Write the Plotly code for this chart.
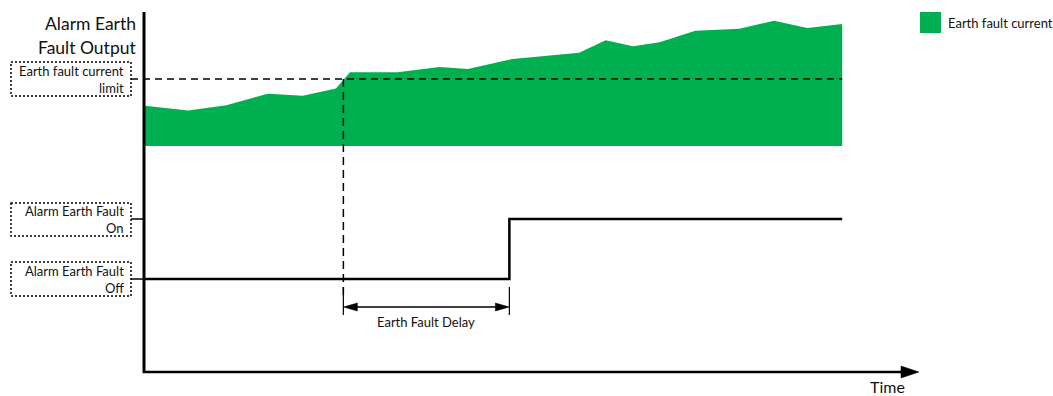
import plotly.graph_objects as go

# ---------------- data ----------------
time_s = [0, 5.2, 9.8, 14.8, 19.0, 23.0, 24.7, 30.4, 35.5, 38.9, 44.3,
          52.3, 55.5, 58.8, 62.0, 66.3, 71.6, 75.8, 79.8, 84.0]
current_a = [6.0, 5.3, 6.1, 7.8, 7.5, 8.6, 11.0, 11.0, 11.8, 11.5, 13.0,
             13.9, 15.8, 14.9, 15.5, 17.2, 17.5, 18.7, 17.6, 18.2]
current_limit_a = 10
alarm_time_s = [0, 43.9, 84.0]
alarm_state = [0, 1, 1]
trip_time_s = 23.9
fault_delay_s = 20

series_name = "Earth fault current"
title_lines = ["Alarm Earth", "Fault Output"]
limit_label = ["Earth fault current", "limit"]
on_label = ["Alarm Earth Fault", "On"]
off_label = ["Alarm Earth Fault", "Off"]
delay_label = "Earth Fault Delay"
time_label = "Time"

# ---------------- layout geometry ----------------
W, H = 1053, 396
X0_PX, PX_PER_S = 145, 8.3
BASE_PX, PX_PER_A = 146, 6.7
OFF_PX, PX_PER_STATE = 279, 60
GREEN = "#00B050"
FONT = "Lato"
TXT = "#111111"


def tx(t):
    return X0_PX + t * PX_PER_S


def cy(c):
    return BASE_PX - c * PX_PER_A


def sy(s):
    return OFF_PX - s * PX_PER_STATE


def px(x):
    return x / W


def py(y):
    return 1 - y / H


fig = go.Figure()
fig.add_trace(go.Scatter(x=time_s, y=current_a, mode="none", fill="tozeroy",
                         fillcolor=GREEN, name=series_name, hoverinfo="skip"))
fig.add_trace(go.Scatter(x=alarm_time_s, y=alarm_state, yaxis="y2", mode="lines",
                         line=dict(color="black", width=2.5, shape="hv"),
                         name="Alarm Earth Fault", hoverinfo="skip"))

shapes = []


def line(x0, y0, x1, y1, width=1.5, dash=None, color="black"):
    d = dict(color=color, width=width)
    if dash:
        d["dash"] = dash
    shapes.append(dict(type="line", xref="paper", yref="paper",
                       x0=px(x0), y0=py(y0), x1=px(x1), y1=py(y1), line=d))


def tri(points):
    path = "M " + " L ".join(f"{px(a)},{py(b)}" for a, b in points) + " Z"
    shapes.append(dict(type="path", xref="paper", yref="paper", path=path,
                       fillcolor="black", line=dict(color="black", width=0.5)))


def box(x0, y0, x1, y1):
    shapes.append(dict(type="rect", xref="paper", yref="paper",
                       x0=px(x0), y0=py(y0), x1=px(x1), y1=py(y1),
                       line=dict(color="black", width=1.5, dash="2px,2px")))


end_px = tx(alarm_time_s[-1])
trip_px = tx(trip_time_s)
on_px = tx(trip_time_s + fault_delay_s)

# limit line and trip marker
line(131, cy(current_limit_a), end_px, cy(current_limit_a), width=1.5, dash="7px,5px")
line(trip_px, cy(current_limit_a), trip_px, 300, width=1.5, dash="8px,5px")

# axes
line(144, 12, 144, 373, width=3)
line(143, 372, 905, 372, width=2.5)
tri([(901, 366), (919, 372), (901, 378)])

# stubs to level labels
line(131, sy(1), 144, sy(1), width=1.5)
line(131, sy(0), 144, sy(0), width=1.5)

# delay dimension
line(trip_px, 287, trip_px, 315, width=1.2)
line(on_px, 287, on_px, 315, width=1.2)
line(trip_px + 10, 307, on_px - 10, 307, width=1.5)
tri([(trip_px, 307), (trip_px + 14, 303), (trip_px + 14, 311)])
tri([(on_px, 307), (on_px - 14, 303), (on_px - 14, 311)])

# label boxes
box(11, 62, 131, 96)
box(11, 203, 131, 236)
box(11, 262, 131, 296)

# legend swatch
shapes.append(dict(type="rect", xref="paper", yref="paper",
                   x0=px(920), y0=py(12), x1=px(941), y1=py(33),
                   fillcolor=GREEN, line=dict(width=0)))

annotations = []


def text(x, y, s, size=13, xanchor="right"):
    annotations.append(dict(xref="paper", yref="paper", x=px(x), y=py(y), text=s,
                            showarrow=False, xanchor=xanchor, yanchor="middle",
                            font=dict(family=FONT, size=size, color=TXT)))


text(138, 24, title_lines[0], size=17.5)
text(138, 47, title_lines[1], size=17.5)
text(126, 71, limit_label[0])
text(126, 88, limit_label[1])
text(126, 211, on_label[0])
text(126, 228, on_label[1])
text(126, 271, off_label[0])
text(126, 288, off_label[1])
text((trip_px + on_px) / 2, 322, delay_label, xanchor="center")
text(887, 386, time_label, size=16, xanchor="center")
text(946, 23, series_name, xanchor="left")

fig.update_layout(
    width=W, height=H,
    margin=dict(l=0, r=0, t=0, b=0),
    paper_bgcolor="white", plot_bgcolor="white",
    showlegend=False,
    xaxis=dict(range=[-X0_PX / PX_PER_S, (W - X0_PX) / PX_PER_S], visible=False, fixedrange=True),
    yaxis=dict(range=[(BASE_PX - H) / PX_PER_A, BASE_PX / PX_PER_A], visible=False, fixedrange=True),
    yaxis2=dict(range=[(OFF_PX - H) / PX_PER_STATE, OFF_PX / PX_PER_STATE], overlaying="y",
                visible=False, fixedrange=True),
    shapes=shapes,
    annotations=annotations,
)

fig.write_html("out.html", config={"displayModeBar": False},
               post_script="document.body.style.margin='0';document.body.style.overflow='hidden';")
